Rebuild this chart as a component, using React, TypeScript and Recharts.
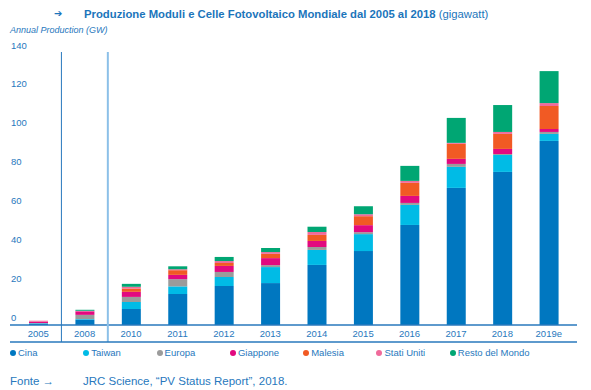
import { Bar, BarChart, ReferenceLine, XAxis, YAxis } from "recharts";

const years = ["2005", "2008", "2010", "2011", "2012", "2013", "2014", "2015", "2016", "2017", "2018", "2019e"];
const cina = [0.6, 2.6, 8.2, 15.9, 20.0, 21.5, 30.8, 37.9, 51.3, 70.3, 78.5, 94.4];
const taiwan = [0.3, 0.4, 3.6, 3.9, 4.6, 8.2, 7.7, 8.7, 10.3, 10.8, 8.7, 3.6];
const europa = [0.1, 2.2, 2.6, 3.7, 2.6, 1.0, 1.5, 1.0, 1.0, 1.5, 0.5, 1.0];
const giappone = [0.7, 1.8, 2.6, 2.2, 3.1, 3.6, 3.1, 3.6, 3.6, 2.6, 2.6, 1.5];
const malesia = [0, 0, 1.7, 2.4, 1.5, 2.2, 3.1, 4.6, 6.7, 7.7, 7.7, 11.8];
const statiUniti = [0.5, 0.3, 0.9, 0.5, 1.0, 0.9, 1.5, 1.0, 1.0, 0.5, 1.0, 1.5];
const resto = [0, 0.5, 1.5, 1.5, 2.1, 2.1, 2.7, 4.1, 7.7, 12.8, 13.8, 16.4];
const yTicks = [0, 20, 40, 60, 80, 100, 120, 140];

const series = [
  { key: "cina", name: "Cina", color: "#0077c0", values: cina },
  { key: "taiwan", name: "Taiwan", color: "#00bbe6", values: taiwan },
  { key: "europa", name: "Europa", color: "#9b9b9b", values: europa },
  { key: "giappone", name: "Giappone", color: "#e2097f", values: giappone },
  { key: "malesia", name: "Malesia", color: "#f15a24", values: malesia },
  { key: "statiUniti", name: "Stati Uniti", color: "#f06a9b", values: statiUniti },
  { key: "resto", name: "Resto del Mondo", color: "#00a673", values: resto },
];

const data = years.map((year, i) => {
  const row: Record<string, string | number> = { year };
  series.forEach((s) => {
    row[s.key] = s.values[i];
  });
  return row;
});

const blue = "#2878bd";
const font = "'Liberation Sans', Arial, sans-serif";

// y labels sit a little above their value, left aligned at the plot edge
function YTick(props: any) {
  return (
    <text x={11} y={props.y - 7} dominantBaseline="central" fontSize={9.5} fill={blue} fontFamily={font}>
      {props.payload.value}
    </text>
  );
}

// x labels are drawn between the zero line and the bottom axis line
function XTick(props: any) {
  return (
    <text x={props.x} y={props.y - 17} textAnchor="middle" dominantBaseline="central" fontSize={9.5} fill={blue} fontFamily={font}>
      {props.payload.value}
    </text>
  );
}

export default function App() {
  return (
    <div style={{ position: "absolute", left: 0, top: 0, width: 591, height: 390, fontFamily: font, color: blue, background: "#fff" }}>
      <div style={{ position: "absolute", left: 54, top: 8, fontSize: 10, fontFamily: "'DejaVu Sans', sans-serif", whiteSpace: "nowrap", color: "#1b75bb" }}>➔</div>
      <div style={{ position: "absolute", left: 84, top: 8, fontSize: 11.3, whiteSpace: "nowrap", color: "#1b75bb" }}>
        <b>Produzione Moduli e Celle Fotovoltaico Mondiale dal 2005 al 2018</b> (gigawatt)
      </div>
      <div style={{ position: "absolute", left: 10, top: 25, fontSize: 9, fontStyle: "italic", whiteSpace: "nowrap" }}>
        Annual Production (GW)
      </div>

      <BarChart width={591} height={345} data={data} margin={{ top: 52, right: 14, left: 9, bottom: 0 }}>
        <XAxis
          dataKey="year"
          height={3}
          padding={{ left: 5, right: 5 }}
          tickLine={false}
          axisLine={{ stroke: blue, strokeWidth: 1.5 }}
          tick={<XTick />}
          interval={0}
        />
        <YAxis
          width={1}
          domain={[-8.72, 140]}
          ticks={yTicks}
          allowDataOverflow
          axisLine={false}
          tickLine={false}
          tick={<YTick />}
        />
        <ReferenceLine y={0} stroke={blue} strokeWidth={1.5} />
        <ReferenceLine x="2008" position="start" stroke={blue} strokeWidth={1} />
        <ReferenceLine x="2010" position="start" stroke="#8cc0e8" strokeWidth={2} />
        {series.map((s) => (
          <Bar key={s.key} dataKey={s.key} name={s.name} stackId="prod" fill={s.color} barSize={19} isAnimationActive={false} />
        ))}
      </BarChart>

      <div style={{ position: "absolute", left: 10, top: 347, display: "flex", fontSize: 9.5 }}>
        {series.map((s) => (
          <div key={s.key} style={{ width: 73.3, flexShrink: 0, display: "flex", alignItems: "center", whiteSpace: "nowrap" }}>
            <span style={{ width: 6, height: 6, flexShrink: 0, borderRadius: 3, background: s.color, marginRight: 2, display: "inline-block" }} />
            {s.name}
          </div>
        ))}
      </div>

      <div style={{ position: "absolute", left: 10, top: 375, fontSize: 11.5, whiteSpace: "nowrap" }}>Fonte →</div>
      <div style={{ position: "absolute", left: 83, top: 375, fontSize: 11.5, whiteSpace: "nowrap" }}>
        JRC Science, “PV Status Report”, 2018.
      </div>
    </div>
  );
}
